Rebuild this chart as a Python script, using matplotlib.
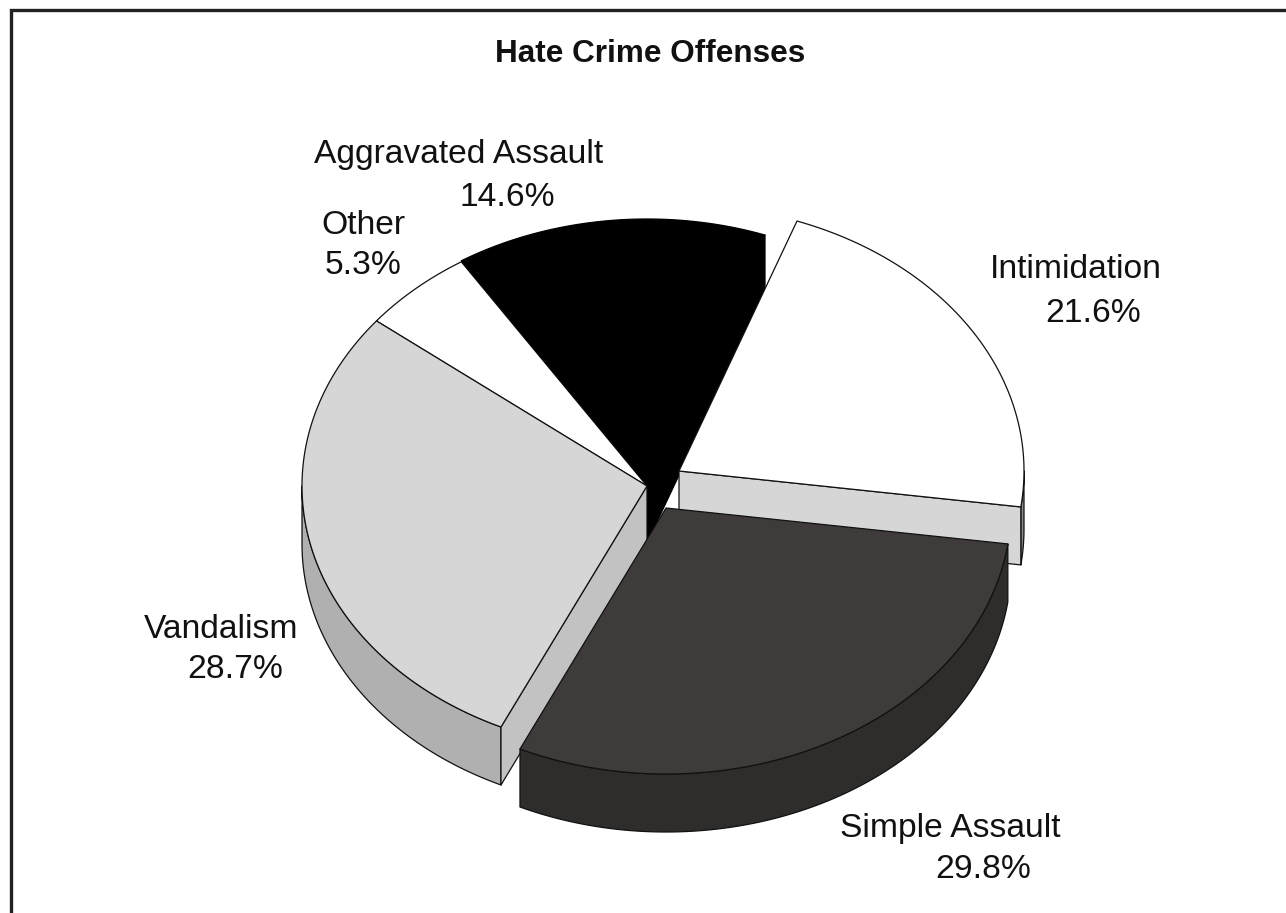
import numpy as np
import matplotlib
matplotlib.use("Agg")
import matplotlib.pyplot as plt
from matplotlib.patches import Polygon

plt.rcParams["font.family"] = ["Liberation Sans", "DejaVu Sans"]

# --- data ---
categories = ["Intimidation", "Simple Assault", "Vandalism", "Other", "Aggravated Assault"]
shares = [21.6, 29.8, 28.7, 5.3, 14.6]

# --- styles / layout (pixels of the 1286x913 picture) ---
top_colors = ["#ffffff", "#3e3b3a", "#d6d6d6", "#ffffff", "#000000"]
rim_colors = ["#8a8a8a", "#2e2d2c", "#b0b0b0", "#ffffff", "#000000"]
cut_colors = ["#d6d6d6", "#2e2d2c", "#c2c2c2", "#ffffff", "#000000"]
edge_colors = ["#111111", "#111111", "#111111", "#111111", "#000000"]
centers = [(679, 471), (666, 508), (647, 486), (647, 486), (647, 485)]
name_pos = [(990, 270), (840, 828), (144, 629), (321, 225), (314, 154)]
pct_pos = [(1045, 313), (935, 870), (187, 670), (325, 265), (459, 197)]
cut_side = {0: "end", 2: "start", 4: "end"}  # which cut of a wedge faces the viewer
RX, RY, DEPTH = 345, 266, 58
START = 70.0

fig = plt.figure(figsize=(12.86, 9.13), dpi=100)
ax = fig.add_axes([0, 0, 1, 1])
ax.set_xlim(0, 1286)
ax.set_ylim(913, 0)
ax.axis("off")


def rim(cx, cy, a0, a1, n=120):
    t = np.radians(np.linspace(a0, a1, n))
    return np.column_stack([cx + RX * np.cos(t), cy - RY * np.sin(t)])


# wedge angles come from the shares, clockwise from START
ends = START - np.cumsum(shares) * 3.6
starts = np.r_[START, ends[:-1]]

# painting order, back to front
order = [3, 4, 0, 2, 1]
for i in order:
    cx, cy = centers[i]
    a0, a1 = starts[i], ends[i]
    edge = edge_colors[i]

    # outer side, only where the rim faces the viewer
    lo, hi = sorted([a0, a1])
    for k in (-1, 0, 1):
        s0, s1 = max(lo, 180 + 360 * k), min(hi, 360 + 360 * k)
        if s1 > s0:
            arc = rim(cx, cy, s0, s1)
            side = np.vstack([arc, (arc + [0, DEPTH])[::-1]])
            ax.add_patch(Polygon(side, fc=rim_colors[i], ec=edge, lw=0.9, joinstyle="round"))

    # cut face of the wedge, where it can be seen
    if i in cut_side:
        ang = a1 if cut_side[i] == "end" else a0
        p = rim(cx, cy, ang, ang, 1)[0]
        face = [(cx, cy), p, p + [0, DEPTH], (cx, cy + DEPTH)]
        ax.add_patch(Polygon(face, fc=cut_colors[i], ec=edge, lw=0.9, joinstyle="round"))

    # top of the wedge
    top = np.vstack([[(cx, cy)], rim(cx, cy, a0, a1)])
    ax.add_patch(Polygon(top, fc=top_colors[i], ec=edge, lw=0.9, joinstyle="round"))

# labels
for name, v, np_, pp in zip(categories, shares, name_pos, pct_pos):
    ax.text(np_[0], np_[1], name, fontsize=24.2, color="#111111", ha="left", va="center")
    ax.text(pp[0], pp[1], f"{v}%", fontsize=24.2, color="#111111", ha="left", va="center")

ax.text(650, 54, "Hate Crime Offenses", fontsize=22.7, fontweight="bold", color="#111111",
        ha="center", va="center")

# frame, cropped at right and bottom
ax.plot([10.5, 10.5, 1286], [913, 10, 10], color="#222222", lw=2.4, solid_joinstyle="miter")

fig.savefig("out.png", dpi=100, facecolor="white")
